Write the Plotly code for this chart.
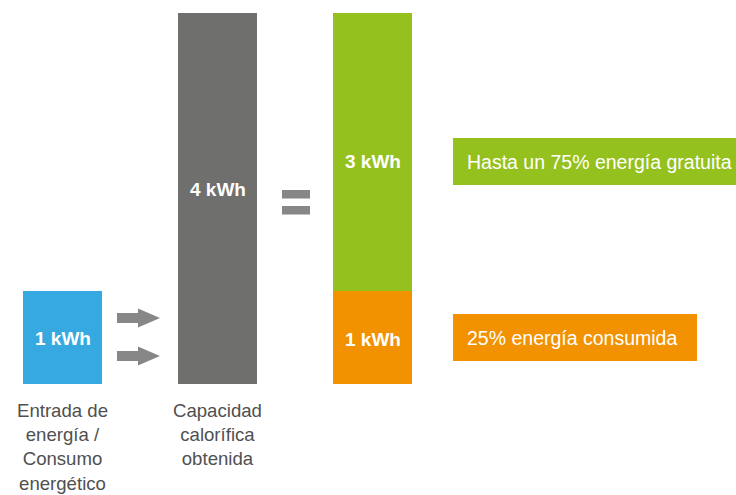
import plotly.graph_objects as go

# ---- data ----
categories = [0, 1, 2]
input_kwh = [1]          # Entrada de energía
capacity_kwh = [4]       # Capacidad calorífica obtenida
consumed_kwh = [1]       # 25% energía consumida
free_kwh = [3]           # Hasta un 75% energía gratuita
bar_labels = ["1 kWh", "4 kWh", "1 kWh", "3 kWh"]
bottom_labels = ["Entrada de<br>energía /<br>Consumo<br>energético",
                 "Capacidad<br>calorífica<br>obtenida"]
box_labels = ["Hasta un 75% energía gratuita", "25% energía consumida"]

W, H = 736, 495
FONT = "Liberation Sans, Arial, sans-serif"
BLUE, GREY, GREEN, ORANGE, ARROW = "#36a9e1", "#6f6f6e", "#95c11f", "#f39200", "#878787"

def px(x):
    return x / W

def py(y):
    return 1 - y / H

fig = go.Figure()
bw = 0.51
fig.add_trace(go.Bar(x=[categories[0]], y=input_kwh, marker=dict(color=BLUE, line=dict(width=0)), width=bw))
fig.add_trace(go.Bar(x=[categories[1]], y=capacity_kwh, marker=dict(color=GREY, line=dict(width=0)), width=bw))
fig.add_trace(go.Bar(x=[categories[2]], y=consumed_kwh, marker=dict(color=ORANGE, line=dict(width=0)), width=bw))
fig.add_trace(go.Bar(x=[categories[2]], y=free_kwh, marker=dict(color=GREEN, line=dict(width=0)), width=bw))

annotations = []
# bar value labels
label_pos = [(categories[0], 0.49), (categories[1], 2.09), (categories[2], 0.47), (categories[2], 2.39)]
for (x, y), t in zip(label_pos, bar_labels):
    annotations.append(dict(x=x, y=y, xref="x", yref="y", text="<b>%s</b>" % t, showarrow=False,
                            font=dict(family=FONT, size=19, color="white"), xanchor="center", yanchor="middle"))
# bottom category labels
for x, t in zip(categories[:2], bottom_labels):
    annotations.append(dict(x=x, y=-0.17, xref="x", yref="y", text=t, showarrow=False, borderpad=0,
                            font=dict(family=FONT, size=18.6, color="#505050"), xanchor="center", yanchor="top",
                            align="center"))

shapes = []
# right label boxes
shapes.append(dict(type="rect", xref="paper", yref="paper", x0=px(453), x1=px(745), y0=py(185), y1=py(138),
                   fillcolor=GREEN, line=dict(width=0), layer="below"))
shapes.append(dict(type="rect", xref="paper", yref="paper", x0=px(453), x1=px(697), y0=py(361), y1=py(314),
                   fillcolor=ORANGE, line=dict(width=0), layer="below"))
annotations.append(dict(x=px(465), y=py(161.5), xref="paper", yref="paper", text=box_labels[0], showarrow=False,
                        font=dict(family=FONT, size=19.5, color="white"), xanchor="left", yanchor="middle"))
annotations.append(dict(x=px(465), y=py(337.5), xref="paper", yref="paper", text=box_labels[1], showarrow=False,
                        font=dict(family=FONT, size=19.5, color="white"), xanchor="left", yanchor="middle"))

# arrows
for cy in (318, 356):
    pts = [(117, cy - 5), (138, cy - 5), (138, cy - 9.5), (160, cy), (138, cy + 9.5), (138, cy + 5), (117, cy + 5)]
    path = "M " + " L ".join("%.5f,%.5f" % (px(a), py(b)) for a, b in pts) + " Z"
    shapes.append(dict(type="path", xref="paper", yref="paper", path=path, fillcolor=ARROW, line=dict(width=0)))

# equals sign
for y0, y1 in ((190, 198.5), (206, 214.5)):
    shapes.append(dict(type="rect", xref="paper", yref="paper", x0=px(282), x1=px(310), y0=py(y1), y1=py(y0),
                       fillcolor=ARROW, line=dict(width=0)))

x0 = -62.5 / 155
fig.update_layout(
    width=W, height=H, margin=dict(l=0, r=0, t=0, b=0),
    paper_bgcolor="white", plot_bgcolor="white",
    barmode="stack", showlegend=False,
    xaxis=dict(range=[x0, x0 + W / 155], visible=False, fixedrange=True),
    yaxis=dict(range=[-(H - 383.5) / 92.75, 383.5 / 92.75], visible=False, fixedrange=True),
    annotations=annotations, shapes=shapes,
)

fig.write_html("out.html", config={"displayModeBar": False},
               post_script="document.body.style.margin='0';document.body.style.overflow='hidden';")
